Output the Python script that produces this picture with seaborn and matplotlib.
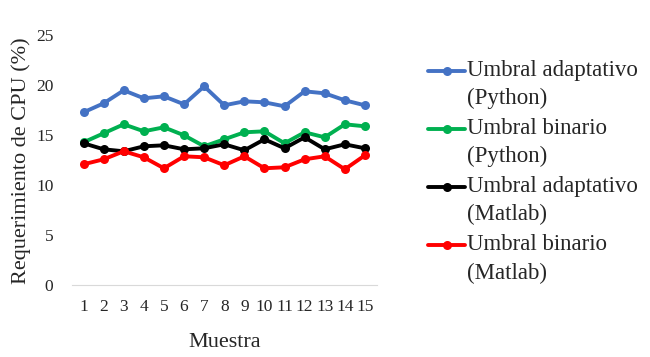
# -*- coding: utf-8 -*-
"""
Requerimiento de CPU por muestra
"""

import matplotlib
import matplotlib.pyplot as plt
import pandas as pd
import seaborn as sns
from matplotlib.legend_handler import HandlerLine2D
from matplotlib.lines import Line2D

matplotlib.use('Agg')

muestras = list(range(1, 16))
series = ['Umbral adaptativo\n(Python)', 'Umbral binario\n(Python)',
          'Umbral adaptativo\n(Matlab)', 'Umbral binario\n(Matlab)']
adapt_python = [17.3, 18.2, 19.5, 18.7, 18.9, 18.1, 19.9, 18.0, 18.4, 18.3, 17.9, 19.4, 19.2, 18.5, 18.0]
binario_python = [14.3, 15.2, 16.1, 15.4, 15.8, 15.0, 13.9, 14.6, 15.3, 15.4, 14.2, 15.3, 14.8, 16.1, 15.9]
adapt_matlab = [14.2, 13.6, 13.4, 13.9, 14.0, 13.6, 13.7, 14.1, 13.5, 14.6, 13.7, 14.8, 13.6, 14.1, 13.7]
binario_matlab = [12.1, 12.6, 13.4, 12.8, 11.7, 12.9, 12.8, 12.0, 12.9, 11.7, 11.8, 12.6, 12.9, 11.6, 13.0]
colores = ['#4472C4', '#00B050', '#000000', '#FF0000']


class HandlerPrimeraLinea(HandlerLine2D):
    # put the legend line next to the first text line, not the middle
    def create_artists(self, legend, orig_handle, xdescent, ydescent,
                       width, height, fontsize, trans):
        return super().create_artists(legend, orig_handle, xdescent,
                                       ydescent - 20, width, height,
                                       fontsize, trans)


def main():
    sns.set_style('white')
    plt.rcParams['font.family'] = ['Liberation Serif', 'DejaVu Serif']

    valores = [adapt_python, binario_python, adapt_matlab, binario_matlab]
    rows = []
    for nombre, vals in zip(series, valores):
        for m, v in zip(muestras, vals):
            rows.append([m, v, nombre])
    df = pd.DataFrame(rows, columns=['Muestra', 'CPU', 'Serie'])

    fig = plt.figure(figsize=(6.5, 3.57), dpi=100)
    ax = fig.add_axes([0.11, 0.201, 0.47, 0.70])
    sns.lineplot(data=df, x='Muestra', y='CPU', hue='Serie', hue_order=series,
                 palette=colores, marker='o', markersize=6.5, markeredgewidth=0,
                 linewidth=2.8, ax=ax)

    ax.set_xlim(0.4, 15.6)
    ax.set_ylim(0, 25)
    ax.set_xticks(muestras)
    ax.set_yticks([0, 5, 10, 15, 20, 25])
    ax.tick_params(axis='x', labelsize=12.5, length=0, pad=10)
    ax.tick_params(axis='y', labelsize=12.5, length=0, pad=13)
    for s in ['top', 'right', 'left']:
        ax.spines[s].set_visible(False)
    ax.spines['bottom'].set_color('#d9d9d9')
    ax.set_xlabel('Muestra', fontsize=16, labelpad=13)
    ax.set_ylabel('Requerimiento de CPU (%)', fontsize=16, labelpad=4)

    leg = ax.legend(loc='upper left', bbox_to_anchor=(1.10, 0.985), frameon=False,
                    fontsize=16.5, handlelength=1.6, handletextpad=0.1,
                    labelspacing=0.38,
                    handler_map={Line2D: HandlerPrimeraLinea()})
    for t in leg.get_texts():
        t.set_linespacing(1.45)

    plt.savefig('out.png', dpi=100)


if __name__ == "__main__":
    main()
